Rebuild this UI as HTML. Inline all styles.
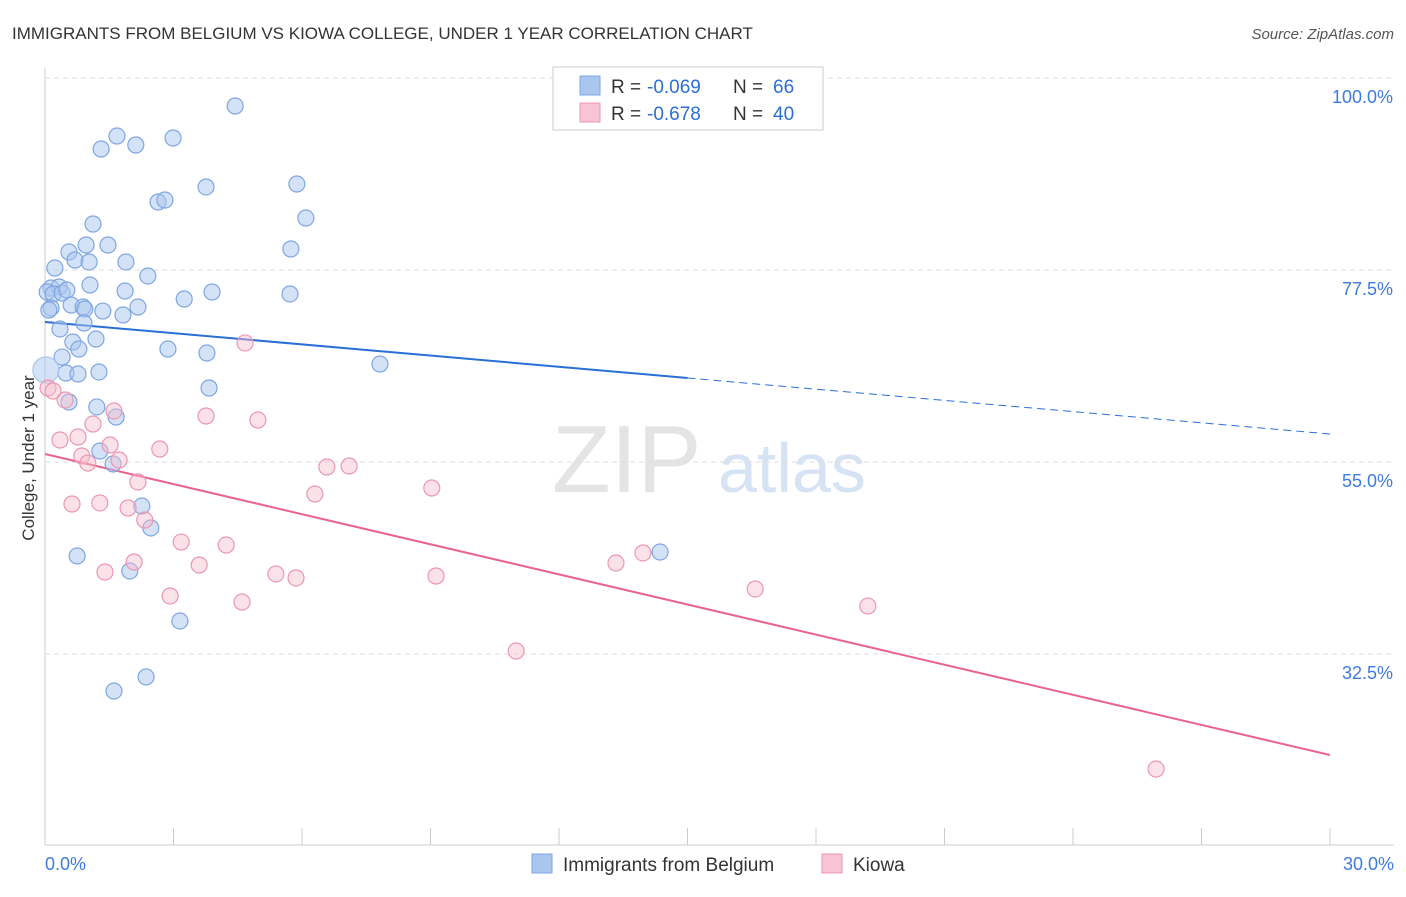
<!DOCTYPE html>
<html><head><meta charset="utf-8"><style>
body{margin:0;background:#fff;font-family:"Liberation Sans",sans-serif}
svg text{font-family:"Liberation Sans",sans-serif}
</style></head><body>
<svg id="chart" width="1406" height="892" xmlns="http://www.w3.org/2000/svg">
<text x="12" y="39" font-size="17" fill="#333">IMMIGRANTS FROM BELGIUM VS KIOWA COLLEGE, UNDER 1 YEAR CORRELATION CHART</text>
<text x="1394" y="39" font-size="15" fill="#555" text-anchor="end" font-style="italic">Source: ZipAtlas.com</text>
<g><text x="552" y="492" font-size="96" fill="#e4e4e4" font-family="Liberation Serif">ZIP</text><text x="718" y="492" font-size="70" fill="#d6e3f5">atlas</text></g>
<g id="grid"></g><g id="axes"></g><g id="lines"></g><g id="pts"></g>
<text transform="translate(34,458) rotate(-90)" font-size="17" fill="#333" text-anchor="middle">College, Under 1 year</text>
<g>
<rect x="553" y="67" width="270" height="63" fill="#fff" stroke="#ccc"/>
<rect x="580" y="76" width="20" height="19" fill="#a9c6ef" stroke="#7fa6e0"/>
<rect x="580" y="103" width="20" height="19" fill="#f6c4d3" stroke="#eb97b1"/>
<text x="611" y="93" font-size="19" fill="#333">R =</text><text x="647" y="93" font-size="19" fill="#2a6fd6">-0.069</text>
<text x="733" y="93" font-size="19" fill="#333">N =</text><text x="773" y="93" font-size="19" fill="#2a6fd6">66</text>
<text x="611" y="120" font-size="19" fill="#333">R =</text><text x="647" y="120" font-size="19" fill="#2a6fd6">-0.678</text>
<text x="733" y="120" font-size="19" fill="#333">N =</text><text x="773" y="120" font-size="19" fill="#2a6fd6">40</text>
</g>
<g>
<rect x="532" y="854" width="20" height="19" fill="#a9c6ef" stroke="#7fa6e0"/>
<text x="563" y="871" font-size="19" fill="#333">Immigrants from Belgium</text>
<rect x="822" y="854" width="20" height="19" fill="#f6c4d3" stroke="#eb97b1"/>
<text x="853" y="871" font-size="19" fill="#333">Kiowa</text>
</g>
</svg>
<script>
const yTicks=[100,77.5,55,32.5];
const yTickLabels=["100.0%","77.5%","55.0%","32.5%"];
const xTicks=[0,3,6,9,12,15,18,21,24,27,30];
const blueX=[4.44,1.68,2.99,1.31,2.12,3.76,5.88,2.64,2.80,6.09,1.12,0.56,0.96,1.47,5.74,0.70,1.03,1.89,0.23,2.40,0.14,0.33,0.05,0.19,0.40,0.51,1.05,1.87,3.25,3.90,5.72,0.14,0.09,0.61,0.89,0.93,1.35,2.17,1.82,0.91,0.35,0.65,1.19,0.79,2.87,3.78,0.40,7.82,0.49,0.77,1.26,3.83,0.56,1.21,1.66,1.28,1.59,2.26,2.47,0.75,1.98,14.36,3.15,2.36,1.61];
const blueY=[96.72,93.2,92.97,91.68,92.15,87.23,87.58,85.47,85.70,83.59,82.89,79.61,80.43,80.43,79.96,78.67,78.44,78.44,77.73,76.80,75.39,75.51,74.92,74.69,74.80,75.16,75.74,75.04,74.10,74.92,74.69,73.05,72.81,73.40,73.16,72.93,72.69,73.16,72.23,71.29,70.59,69.06,69.41,68.24,68.24,67.77,67.30,66.48,65.43,65.31,65.55,63.67,62.03,61.45,60.27,56.29,54.77,49.84,47.27,43.99,42.23,44.45,36.37,29.81,28.16];
const pinkX=[0.07,0.19,0.47,3.76,1.61,4.97,1.12,4.67,0.35,0.77,1.52,2.68,0.86,1.00,1.73,6.58,7.10,2.17,6.30,9.03,0.63,1.28,1.94,2.33,3.18,4.23,2.08,1.40,3.60,5.39,5.86,9.13,13.33,13.96,16.58,2.92,4.60,19.21,11.00,25.94];
const pinkY=[63.67,63.32,62.27,60.39,60.98,59.92,59.45,68.95,57.58,57.93,56.99,56.52,55.70,54.88,55.23,54.41,54.53,52.66,51.25,51.95,50.08,50.20,49.61,48.20,45.62,45.27,43.28,42.11,42.93,41.88,41.41,41.64,43.16,44.34,40.12,39.30,38.59,38.12,32.85,19.02];
const blueTrend=[71.41,58.28];
const pinkTrend=[55.94,20.66];
const NS="http://www.w3.org/2000/svg";
const xs=v=>45+v/30*1285;
const ys=v=>78+(100-v)*192/22.5;
function mk(tag,attrs,parent){const e=document.createElementNS(NS,tag);for(const k in attrs)e.setAttribute(k,attrs[k]);document.getElementById(parent).appendChild(e);return e;}
yTicks.forEach((t,i)=>{
 const l=mk('line',{x1:45,x2:1394,y1:ys(t),y2:ys(t),stroke:'#ddd','stroke-dasharray':'5,4'},'grid');
 
 
 const tx=mk('text',{x:1393,y:ys(t)+25,'font-size':18,fill:'#3d7be0','text-anchor':'end'},'grid');
 tx.textContent=yTickLabels[i];
 
 
});
const ax=mk('line',{x1:45,x2:45,y1:68,y2:845,stroke:'#ccc'},'axes');


const bx=mk('line',{x1:45,x2:1394,y1:845,y2:845,stroke:'#ccc'},'axes');


xTicks.forEach(t=>{
 const l=mk('line',{x1:xs(t),x2:xs(t),y1:828,y2:845,stroke:'#ccc'},'axes');
 
 
});
const x0=mk('text',{x:45,y:870,'font-size':18,fill:'#3d7be0'},'axes');x0.textContent='0.0%';


const x1=mk('text',{x:1394,y:870,'font-size':18,fill:'#3d7be0','text-anchor':'end'},'axes');x1.textContent='30.0%';


function dot(x,y,r,fill,stroke,name){const c=mk('circle',{cx:xs(x),cy:ys(y),r:r,fill:fill,stroke:stroke,'stroke-width':1.2},'pts');
 
 }
blueX.forEach((x,i)=>dot(x,blueY[i],8,'rgba(169,198,239,0.5)','#7fa6e0','belgium-point'));
dot(0.02,65.78,13,'rgba(169,198,239,0.5)','#a9c6ef','belgium-point-large');
pinkX.forEach((x,i)=>dot(x,pinkY[i],8,'rgba(246,188,205,0.45)','#eb97b1','kiowa-point'));
const bm=(blueTrend[0]+blueTrend[1])/2;
const b1=mk('line',{x1:xs(0),y1:ys(blueTrend[0]),x2:xs(15),y2:ys(bm),stroke:'#2a6fd6','stroke-width':2},'lines');


const b2=mk('line',{x1:xs(15),y1:ys(bm),x2:xs(30),y2:ys(blueTrend[1]),stroke:'#2a6fd6','stroke-width':1,'stroke-dasharray':'8,5'},'lines');


const p1=mk('line',{x1:xs(0),y1:ys(pinkTrend[0]),x2:xs(30),y2:ys(pinkTrend[1]),stroke:'#e8648f','stroke-width':2},'lines');


</script>
</body></html>
